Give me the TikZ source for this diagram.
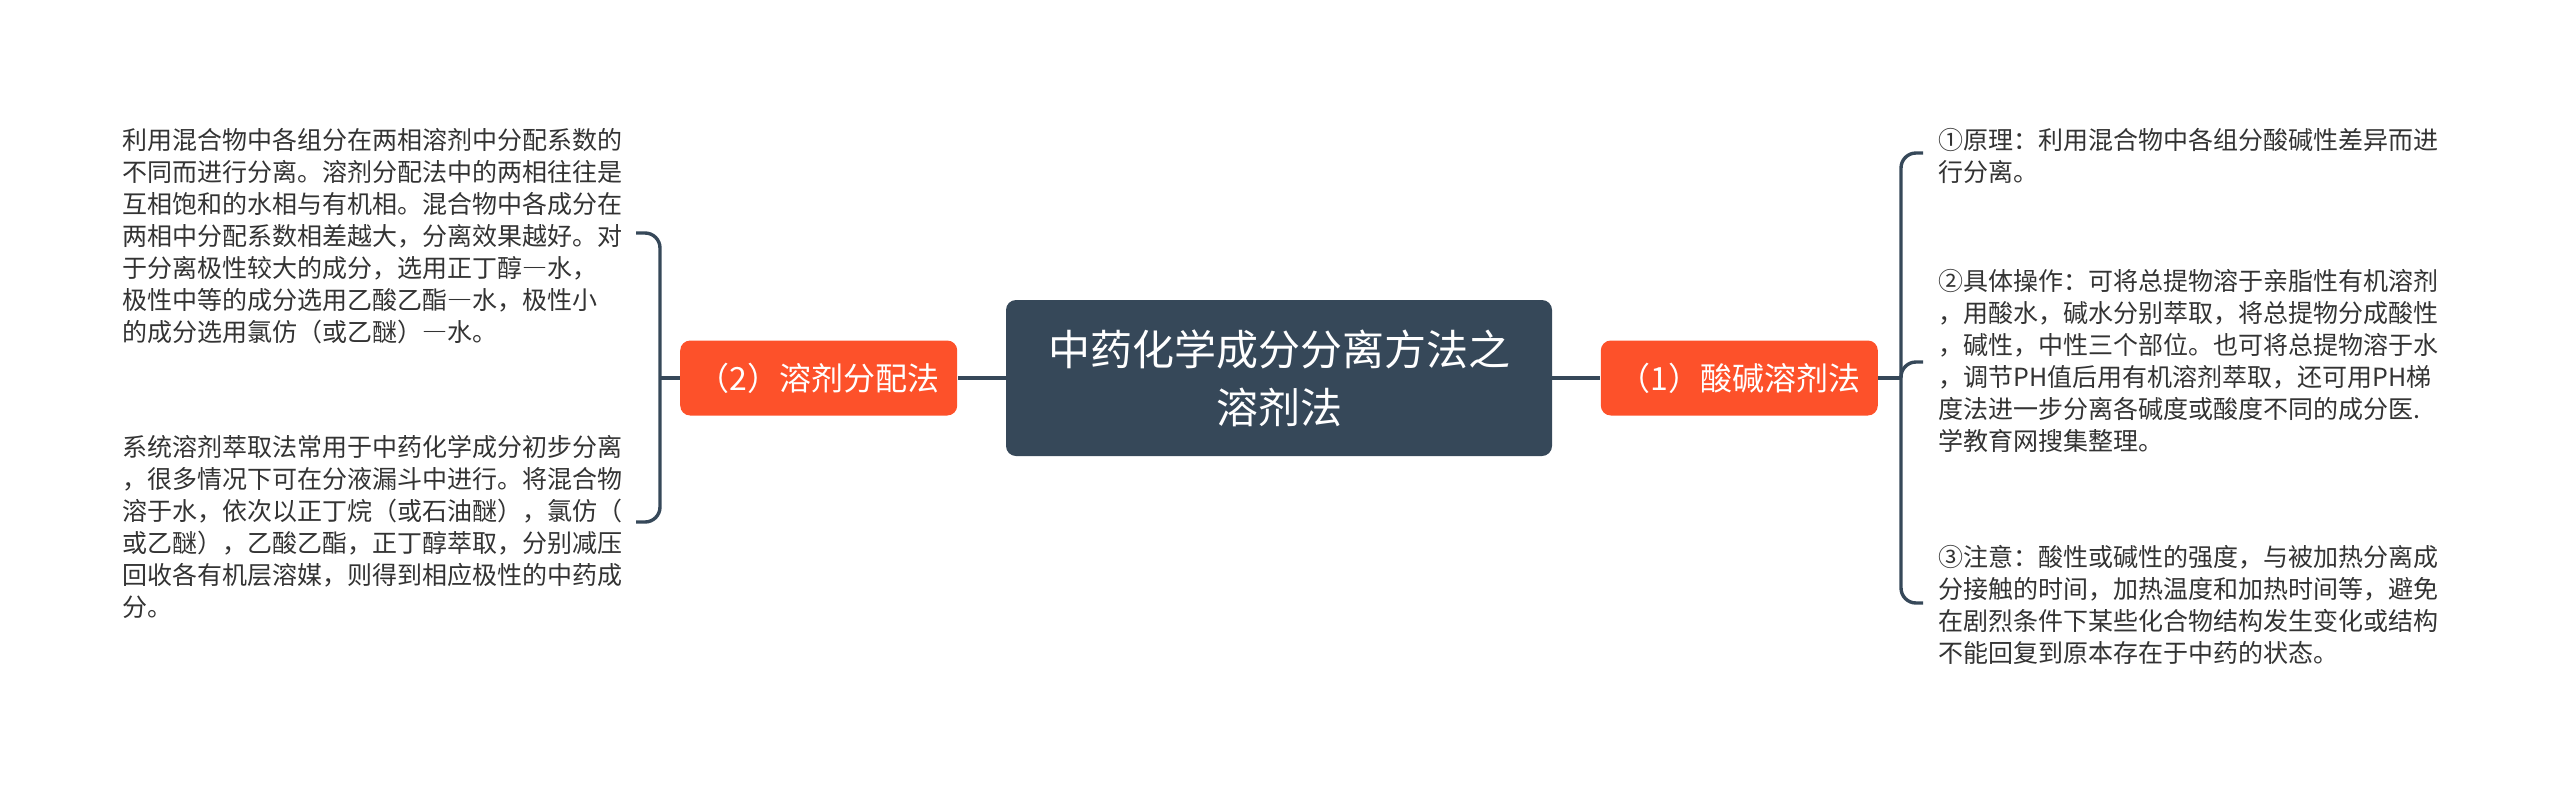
\documentclass[tikz,border=0pt]{standalone}
\usepackage{fontspec}
\setmainfont{Noto Sans CJK SC}
\newfontfamily\fullwidth[RawFeature=+fwid]{Noto Sans CJK SC}
\newcommand\wdash{{\fullwidth —}}
\usetikzlibrary{positioning}
\definecolor{slate}{RGB}{54,72,89}
\definecolor{branchred}{RGB}{253,81,42}
\definecolor{bodytext}{RGB}{51,51,51}
\tikzset{
	root/.style={fill=slate, text=white, rounded corners=5pt, minimum width=273pt, minimum height=78pt, align=center, font=\fontsize{21}{29}\selectfont},
	branch/.style={fill=branchred, text=white, rounded corners=5pt, minimum width=138.5pt, minimum height=37.5pt, font=\fontsize{16}{20}\selectfont},
	leaf/.style={text=bodytext, align=left, inner sep=0pt, anchor=west, font=\fontsize{12.5}{16}\selectfont},
	link/.style={draw=slate, line width=1.7pt},
}

\begin{document}
\begin{tikzpicture}[x=0.5pt, y=-0.5pt, node distance=24pt]
	\useasboundingbox (0,0) rectangle (2560,788);
	\node[root] (root) at (1279,378)   {中药化学成分分离方法之\\溶剂法};
	\node[branch, left =of root] (solvent)  {（2）溶剂分配法};
	\node[branch, right =of root] (acidbase) {（1）酸碱溶剂法};
	\node[leaf] (partition) at (122,236) {利用混合物中各组分在两相溶剂中分配系数的\\不同而进行分离。溶剂分配法中的两相往往是\\互相饱和的水相与有机相。混合物中各成分在\\两相中分配系数相差越大，分离效果越好。对\\于分离极性较大的成分，选用正丁醇\wdash 水，\\极性中等的成分选用乙酸乙酯\wdash 水，极性小\\的成分选用氯仿（或乙醚）\wdash 水。};
	\node[leaf] (extract) at (122,527) {系统溶剂萃取法常用于中药化学成分初步分离\\，很多情况下可在分液漏斗中进行。将混合物\\溶于水，依次以正丁烷（或石油醚），氯仿（\\或乙醚），乙酸乙酯，正丁醇萃取，分别减压\\回收各有机层溶媒，则得到相应极性的中药成\\分。};
	\node[leaf] (principle) at (1938,156) {①原理：利用混合物中各组分酸碱性差异而进\\行分离。};
	\node[leaf] (operation) at (1938,361) {②具体操作：可将总提物溶于亲脂性有机溶剂\\，用酸水，碱水分别萃取，将总提物分成酸性\\，碱性，中性三个部位。也可将总提物溶于水\\，调节PH值后用有机溶剂萃取，还可用PH梯\\度法进一步分离各碱度或酸度不同的成分医.\\学教育网搜集整理。};
	\node[leaf] (caution) at (1938,605) {③注意：酸性或碱性的强度，与被加热分离成\\分接触的时间，加热温度和加热时间等，避免\\在剧烈条件下某些化合物结构发生变化或结构\\不能回复到原本存在于中药的状态。};
	\coordinate (lhub) at (660,378);
	\coordinate (ltop) at (636,233);
	\coordinate (lbot) at (636,522);
	\coordinate (rhub) at (1901,378);
	\coordinate (rtop) at (1923,153);
	\coordinate (rmid) at (1923,362);
	\coordinate (rbot) at (1923,603);
	\foreach \from/\to in {root/solvent, root/acidbase, solvent/lhub, acidbase/rhub}
		\draw[link] (\from) -- (\to);
	\draw[link, rounded corners=7.5pt] (ltop) -| (lhub) |- (lbot);
	\draw[link, rounded corners=7.5pt] (rtop) -| (rhub) |- (rbot);
	\draw[link, rounded corners=7.5pt] (rhub) |- (rmid);
\end{tikzpicture}
\end{document}
